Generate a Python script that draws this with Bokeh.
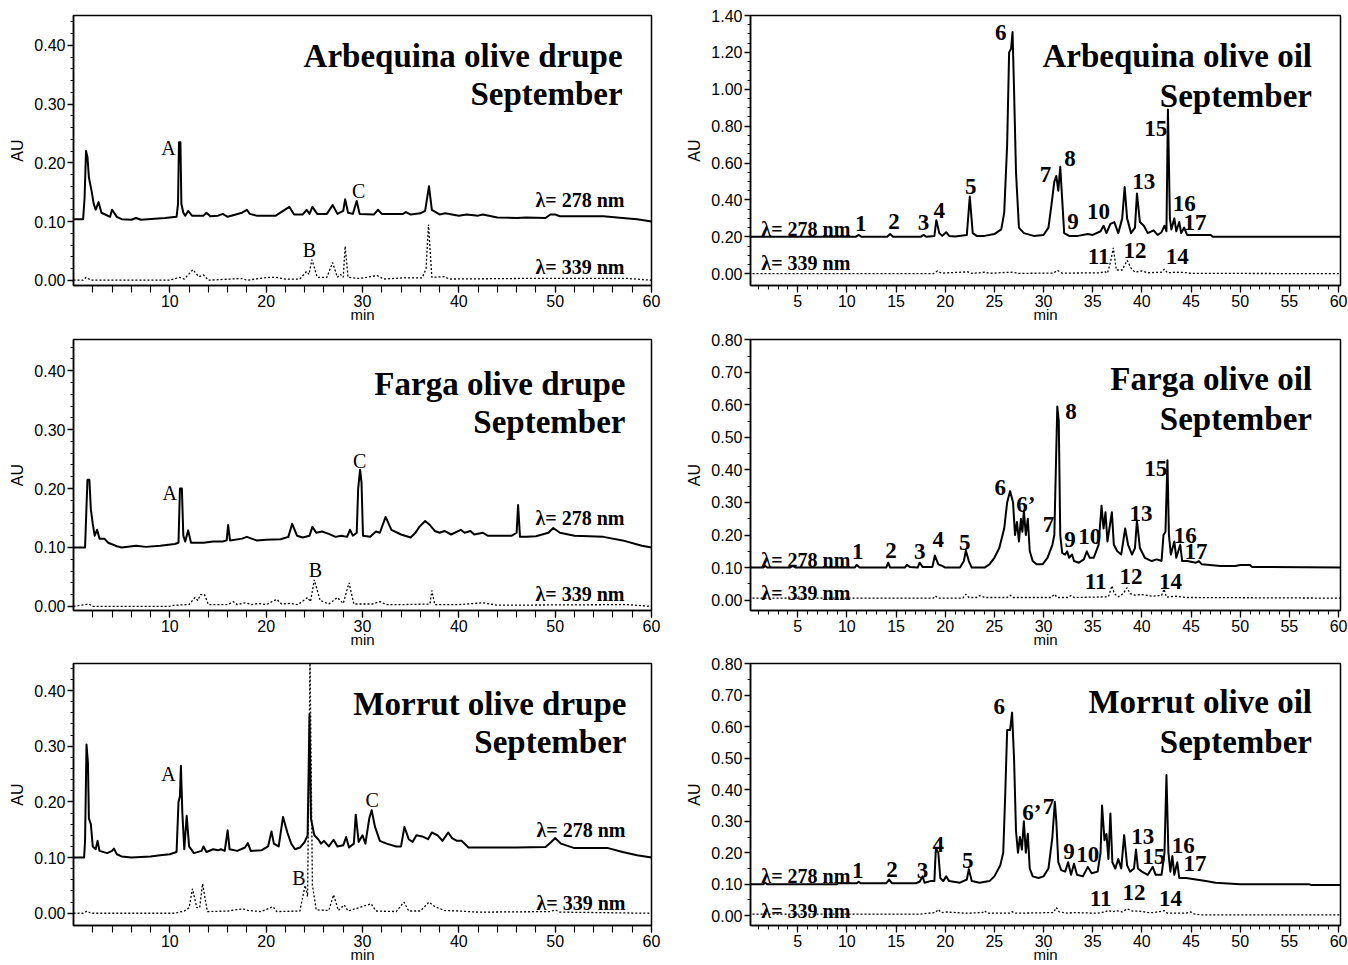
from bokeh.plotting import figure
from bokeh.layouts import column, row
from bokeh.models import Label, FixedTicker, PrintfTickFormatter, Range1d
from bokeh.embed import file_html
from bokeh.resources import INLINE

# ---------------- DATA (retention time in min, absorbance in AU) ----------------
arb_drupe_278 = [(0,0.104),(1.0,0.104),(1.15,0.14),(1.3,0.22),(1.45,0.21),(1.6,0.175),(1.9,0.15),(2.1,0.13),(2.3,0.12),(2.6,0.133),(2.9,0.115),(3.3,0.112),(3.8,0.108),(4.0,0.12),(4.5,0.108),(5,0.104),(6,0.103),(6.5,0.106),(7,0.103),(9.5,0.106),(10.7,0.108),(10.85,0.13),(10.95,0.235),(11.1,0.235),(11.2,0.13),(11.4,0.115),(11.6,0.11),(11.9,0.118),(12.3,0.11),(13.5,0.11),(13.8,0.115),(14.2,0.109),(15.0,0.11),(15.5,0.113),(16,0.108),(17.5,0.115),(18.0,0.12),(18.3,0.113),(19,0.11),(21,0.11),(22.4,0.125),(22.9,0.112),(23.8,0.112),(24.2,0.12),(24.5,0.113),(24.8,0.125),(25.3,0.113),(26.3,0.113),(26.9,0.128),(27.4,0.113),(28.0,0.118),(28.2,0.138),(28.5,0.115),(29.0,0.113),(29.4,0.135),(29.7,0.113),(31.2,0.112),(31.6,0.12),(32,0.113),(34.2,0.113),(34.5,0.116),(35,0.112),(36,0.114),(36.5,0.118),(36.9,0.16),(37.2,0.12),(38,0.112),(38.6,0.114),(40,0.11),(40.8,0.112),(42,0.11),(42.5,0.112),(44,0.107),(46,0.106),(47,0.107),(49,0.106),(49.5,0.112),(50,0.112),(50.5,0.109),(55,0.109),(57,0.106),(58.5,0.104),(60,0.1)]
arb_drupe_339 = [(0,0.0),(1.0,0.0),(1.3,0.005),(1.8,0.0),(10,0.0),(11,0.005),(11.5,0.002),(12.4,0.018),(13,0.006),(13.5,0.009),(14,0.0),(17.5,0.003),(18,0.0),(20.3,0.005),(21,0.005),(22,0.002),(23.5,0.002),(24.2,0.015),(24.45,0.01),(24.75,0.035),(25.3,0.005),(26.3,0.005),(26.9,0.03),(27.4,0.005),(27.7,0.01),(28.0,0.005),(28.2,0.058),(28.5,0.005),(29.5,0.003),(30.5,0.005),(31.5,0.008),(32.2,0.002),(34.2,0.004),(36.2,0.004),(36.6,0.02),(36.85,0.095),(37.2,0.005),(38.5,0.006),(39,0.002),(46.5,0.003),(49.2,0.003),(57.5,0.003),(60,0.0)]

farga_drupe_278 = [(0,0.10),(1.2,0.10),(1.35,0.17),(1.45,0.215),(1.65,0.215),(1.8,0.165),(2.0,0.14),(2.2,0.12),(2.45,0.13),(2.7,0.115),(3.2,0.115),(3.6,0.108),(4.5,0.102),(5,0.10),(6.5,0.103),(7.5,0.101),(9,0.103),(10.5,0.106),(10.9,0.108),(11.05,0.2),(11.25,0.2),(11.4,0.12),(11.6,0.11),(11.9,0.129),(12.2,0.108),(13.5,0.108),(14.5,0.11),(15.5,0.11),(15.9,0.112),(16.05,0.138),(16.25,0.112),(17.5,0.115),(18,0.118),(19,0.112),(20,0.113),(21.5,0.114),(22.3,0.118),(22.7,0.14),(23.2,0.12),(23.8,0.117),(24.5,0.12),(24.8,0.135),(25.2,0.125),(25.8,0.127),(26.5,0.123),(27.2,0.118),(27.8,0.12),(28.4,0.118),(28.7,0.13),(29.0,0.12),(29.4,0.125),(29.55,0.2),(29.75,0.232),(29.9,0.21),(30.05,0.12),(30.8,0.118),(31.4,0.127),(31.8,0.125),(32.4,0.152),(33,0.13),(34,0.122),(35,0.117),(35.5,0.125),(35.9,0.135),(36.5,0.145),(37.0,0.138),(37.5,0.128),(38,0.125),(38.5,0.128),(39.2,0.122),(40.2,0.13),(40.6,0.125),(41.2,0.128),(41.6,0.122),(42.5,0.125),(43,0.12),(45.5,0.12),(46.0,0.125),(46.15,0.172),(46.35,0.118),(47,0.118),(48,0.119),(49.3,0.125),(49.8,0.133),(50.5,0.125),(52,0.12),(55,0.118),(57,0.112),(59,0.103),(60,0.10)]
farga_drupe_339 = [(0,0.0),(1.2,0.003),(1.6,0.004),(2.0,0.0),(10,0.0),(10.5,0.002),(12,0.003),(12.6,0.015),(12.9,0.01),(13.2,0.02),(13.6,0.02),(14.0,0.003),(16,0.003),(16.6,0.008),(17,0.003),(17.8,0.006),(18.5,0.003),(19.2,0.005),(20,0.003),(21.1,0.012),(21.6,0.004),(22.5,0.005),(23.3,0.003),(24.3,0.015),(24.6,0.008),(25.0,0.045),(25.6,0.01),(26.5,0.004),(27.4,0.015),(28.0,0.005),(28.6,0.04),(29.1,0.004),(31,0.004),(31.8,0.008),(32.5,0.003),(34,0.003),(37.0,0.004),(37.2,0.027),(37.5,0.003),(40,0.003),(42.5,0.006),(44,0.002),(57.5,0.003),(60,0.0)]

morrut_drupe_278 = [(0,0.10),(1.1,0.10),(1.2,0.13),(1.35,0.303),(1.5,0.27),(1.6,0.17),(1.8,0.16),(2.0,0.12),(2.3,0.115),(2.5,0.13),(2.7,0.112),(3.5,0.108),(4.0,0.112),(4.2,0.116),(4.5,0.106),(5,0.102),(6,0.10),(8,0.102),(9,0.104),(10,0.106),(10.7,0.11),(10.9,0.2),(11.05,0.21),(11.15,0.265),(11.3,0.18),(11.5,0.115),(11.75,0.175),(12.0,0.12),(12.5,0.108),(13.3,0.112),(13.5,0.12),(13.8,0.11),(14.5,0.115),(15,0.113),(15.3,0.115),(15.7,0.112),(16.0,0.149),(16.2,0.115),(17,0.112),(17.8,0.118),(18.1,0.126),(18.4,0.112),(19.5,0.113),(20.2,0.12),(20.55,0.147),(20.8,0.125),(21.3,0.12),(21.75,0.173),(22.2,0.145),(22.6,0.125),(23,0.115),(23.5,0.118),(24.0,0.128),(24.3,0.14),(24.5,0.357),(24.65,0.17),(25.0,0.14),(25.4,0.133),(25.7,0.125),(26.0,0.13),(26.5,0.12),(27.0,0.132),(27.4,0.12),(28.0,0.122),(28.3,0.137),(28.6,0.118),(29.1,0.125),(29.3,0.177),(29.6,0.128),(30.0,0.14),(30.3,0.125),(30.7,0.17),(30.95,0.185),(31.3,0.155),(31.8,0.13),(32.5,0.125),(33.5,0.12),(34.0,0.12),(34.35,0.155),(34.8,0.133),(35.2,0.128),(35.6,0.14),(36.2,0.138),(36.8,0.133),(37.2,0.145),(37.8,0.14),(38.3,0.13),(38.9,0.145),(39.3,0.135),(39.8,0.13),(40.3,0.13),(41.0,0.118),(45,0.118),(46,0.118),(49,0.119),(49.6,0.128),(50.0,0.135),(50.6,0.125),(52,0.117),(55.5,0.117),(57,0.11),(58.5,0.104),(60,0.10)]
morrut_drupe_339 = [(0,0.0),(1.0,0.0),(1.4,0.004),(1.8,0.0),(10.5,0.0),(11.5,0.004),(12.0,0.01),(12.35,0.044),(12.8,0.01),(13.1,0.01),(13.4,0.053),(13.9,0.003),(16,0.004),(17.6,0.008),(18.1,0.005),(19.5,0.003),(20.7,0.012),(21.1,0.003),(23.5,0.004),(23.8,0.03),(24.05,0.05),(24.3,0.03),(24.55,0.46),(24.8,0.05),(25.2,0.006),(26.5,0.005),(27.0,0.033),(27.5,0.005),(28.1,0.015),(28.5,0.004),(30.9,0.017),(31.4,0.004),(33.5,0.003),(34.3,0.02),(34.8,0.004),(36,0.004),(36.9,0.02),(37.5,0.012),(38.5,0.005),(40,0.004),(42,0.002),(49.5,0.003),(50,0.006),(50.5,0.002),(60,0.0)]

arb_oil_278 = [(0,0.20),(10.9,0.20),(11.2,0.21),(11.5,0.20),(14.1,0.20),(14.4,0.215),(14.7,0.20),(17.5,0.20),(17.8,0.21),(18.1,0.20),(18.9,0.205),(19.1,0.29),(19.4,0.22),(19.7,0.205),(20.1,0.225),(20.4,0.205),(21,0.202),(22.2,0.21),(22.5,0.418),(22.8,0.22),(23.2,0.205),(24,0.205),(25,0.215),(25.7,0.24),(26.0,0.33),(26.3,0.7),(26.5,1.2),(26.7,1.22),(26.85,1.31),(27.0,1.0),(27.2,0.55),(27.5,0.25),(28,0.22),(29,0.205),(30,0.21),(30.5,0.25),(30.8,0.37),(31.1,0.5),(31.3,0.53),(31.5,0.45),(31.7,0.58),(31.9,0.4),(32.1,0.22),(32.6,0.205),(33.5,0.205),(34.5,0.215),(35,0.21),(35.8,0.23),(36.1,0.26),(36.4,0.22),(36.8,0.27),(37.2,0.28),(37.6,0.22),(38.0,0.3),(38.25,0.47),(38.5,0.3),(38.9,0.22),(39.3,0.25),(39.5,0.435),(39.8,0.28),(40.2,0.26),(40.6,0.22),(41.2,0.235),(41.6,0.21),(42.0,0.225),(42.3,0.26),(42.5,0.23),(42.65,0.89),(42.85,0.3),(43.0,0.24),(43.3,0.3),(43.5,0.23),(43.8,0.28),(44.0,0.22),(44.3,0.25),(44.6,0.21),(45.5,0.21),(47.0,0.21),(47.2,0.20),(60.2,0.20)]
arb_oil_339 = [(0,0.0),(18.8,0.0),(19.2,0.015),(19.6,0.003),(22.3,0.01),(22.7,0.002),(23.5,0.005),(24,0.008),(24.5,0.002),(25.8,0.006),(26.8,0.008),(27.5,0.002),(31,0.003),(31.4,0.018),(31.9,0.003),(35.8,0.005),(36.2,0.012),(36.5,0.003),(36.8,0.06),(37.1,0.14),(37.4,0.02),(38.0,0.02),(38.5,0.072),(38.9,0.03),(39.3,0.008),(40,0.015),(40.6,0.005),(42,0.008),(42.3,0.025),(42.6,0.005),(43.5,0.008),(44.5,0.006),(45,0.002),(60.2,0.0)]

farga_oil_278 = [(0,0.10),(1.5,0.10),(1.7,0.105),(1.9,0.10),(4.2,0.10),(4.5,0.105),(4.8,0.10),(10.8,0.10),(11.0,0.108),(11.3,0.10),(14.0,0.10),(14.2,0.115),(14.4,0.10),(15.9,0.10),(16.1,0.108),(16.4,0.102),(17.2,0.10),(17.4,0.115),(17.7,0.102),(18.7,0.102),(18.95,0.137),(19.3,0.11),(19.7,0.105),(20,0.10),(21.5,0.10),(21.9,0.12),(22.1,0.152),(22.4,0.12),(22.7,0.10),(24,0.10),(24.5,0.11),(25,0.13),(25.5,0.16),(26,0.22),(26.3,0.3),(26.6,0.335),(26.9,0.3),(27.1,0.2),(27.3,0.24),(27.5,0.18),(27.7,0.25),(27.85,0.21),(28.0,0.275),(28.2,0.2),(28.4,0.25),(28.6,0.15),(28.9,0.12),(29.3,0.11),(29.9,0.11),(30.4,0.13),(30.9,0.17),(31.1,0.2),(31.25,0.4),(31.4,0.595),(31.55,0.55),(31.7,0.2),(31.9,0.145),(32.2,0.14),(32.4,0.15),(32.6,0.13),(32.9,0.14),(33.1,0.12),(33.6,0.115),(34.1,0.125),(34.4,0.15),(34.7,0.13),(35.1,0.13),(35.6,0.17),(35.9,0.29),(36.1,0.22),(36.3,0.27),(36.5,0.18),(36.7,0.22),(36.95,0.27),(37.15,0.17),(37.5,0.15),(37.9,0.14),(38.3,0.22),(38.6,0.17),(39.0,0.14),(39.3,0.16),(39.5,0.245),(39.8,0.16),(40.3,0.13),(41,0.12),(41.5,0.125),(42,0.12),(42.2,0.2),(42.4,0.21),(42.6,0.43),(42.75,0.2),(42.95,0.14),(43.3,0.18),(43.5,0.13),(43.9,0.17),(44.1,0.12),(44.6,0.12),(45.5,0.115),(45.8,0.12),(46.1,0.11),(48,0.105),(49.5,0.105),(50,0.108),(51,0.108),(51.2,0.102),(60.2,0.10)]
farga_oil_339 = [(0,0.006),(18.8,0.006),(19.0,0.013),(19.3,0.006),(21.8,0.006),(22.1,0.018),(22.4,0.008),(23.2,0.008),(23.5,0.014),(24,0.008),(26.3,0.008),(26.6,0.015),(26.9,0.008),(30.8,0.008),(31.1,0.018),(31.4,0.008),(32.5,0.008),(32.8,0.014),(33.1,0.008),(36.6,0.01),(36.95,0.044),(37.2,0.02),(37.6,0.01),(38.1,0.02),(38.5,0.038),(38.8,0.02),(39.3,0.015),(40,0.017),(41,0.012),(42.0,0.014),(42.25,0.034),(42.5,0.009),(43.5,0.012),(44.5,0.008),(60.2,0.006)]

morrut_oil_278 = [(0,0.10),(1.5,0.10),(1.7,0.105),(1.9,0.10),(9,0.10),(9.1,0.103),(11,0.103),(11.2,0.108),(11.4,0.103),(14.0,0.103),(14.3,0.115),(14.6,0.103),(17.0,0.103),(17.4,0.108),(17.7,0.125),(17.9,0.105),(18.5,0.11),(18.9,0.11),(19.05,0.215),(19.3,0.2),(19.5,0.12),(19.8,0.11),(20.1,0.125),(20.4,0.11),(21.5,0.105),(22.2,0.115),(22.4,0.148),(22.7,0.11),(23.5,0.105),(24.5,0.11),(25,0.125),(25.6,0.16),(25.9,0.2),(26.1,0.38),(26.3,0.59),(26.6,0.59),(26.8,0.645),(27.0,0.5),(27.2,0.27),(27.4,0.2),(27.6,0.25),(27.8,0.21),(28.0,0.3),(28.2,0.2),(28.4,0.26),(28.6,0.15),(28.9,0.125),(29.5,0.12),(30.0,0.125),(30.5,0.15),(30.9,0.25),(31.15,0.362),(31.3,0.3),(31.5,0.17),(31.8,0.145),(32.2,0.14),(32.5,0.17),(32.8,0.13),(33.1,0.165),(33.4,0.13),(34.0,0.125),(34.5,0.155),(34.9,0.135),(35.5,0.14),(35.8,0.2),(35.95,0.35),(36.2,0.24),(36.4,0.26),(36.6,0.18),(36.8,0.325),(37.0,0.17),(37.3,0.15),(37.6,0.18),(37.9,0.15),(38.2,0.256),(38.5,0.16),(38.8,0.14),(39.2,0.15),(39.4,0.21),(39.6,0.15),(40.0,0.14),(40.6,0.13),(41.1,0.155),(41.4,0.13),(42.0,0.13),(42.3,0.2),(42.5,0.447),(42.7,0.2),(42.9,0.14),(43.1,0.19),(43.3,0.13),(43.6,0.17),(43.8,0.12),(44.5,0.12),(45.5,0.115),(46.5,0.11),(47.5,0.105),(50,0.10),(57,0.10),(57.2,0.098),(60.2,0.098)]
morrut_oil_339 = [(0,0.005),(17.5,0.005),(18.2,0.008),(19.0,0.01),(19.3,0.02),(19.6,0.01),(20.2,0.012),(22,0.008),(23.8,0.01),(24.0,0.016),(24.3,0.008),(26.5,0.008),(26.8,0.013),(27.1,0.008),(31.0,0.01),(31.3,0.026),(31.6,0.012),(32.5,0.008),(33,0.01),(35.5,0.008),(36.2,0.012),(36.6,0.017),(37,0.012),(37.4,0.016),(38.0,0.012),(38.5,0.022),(39,0.015),(40,0.014),(40.6,0.01),(41.2,0.01),(42.3,0.016),(42.6,0.008),(44.5,0.008),(45,0.012),(45.3,0.006),(46,0.003),(60.2,0.003)]

# tick values
drupe_x_ticks = [10, 20, 30, 40, 50, 60]
drupe_y_ticks = [0.0, 0.1, 0.2, 0.3, 0.4]
oil_x_ticks = [5, 10, 15, 20, 25, 30, 35, 40, 45, 50, 55, 60]
arb_oil_y_ticks = [0.0, 0.2, 0.4, 0.6, 0.8, 1.0, 1.2, 1.4]
oil_y_ticks = [0.0, 0.1, 0.2, 0.3, 0.4, 0.5, 0.6, 0.7, 0.8]

# peak annotations (label, time, AU)
arb_drupe_peaks = [("A", 9.85, 0.226), ("B", 24.5, 0.051), ("C", 29.6, 0.152)]
farga_drupe_peaks = [("A", 10.0, 0.192), ("B", 25.1, 0.061), ("C", 29.7, 0.247)]
morrut_drupe_peaks = [("A", 9.87, 0.25), ("B", 23.4, 0.064), ("C", 31.0, 0.203)]
arb_oil_peaks = [("1",11.4,0.273),("2",14.8,0.282),("3",17.8,0.276),("4",19.4,0.34),("5",22.6,0.473),("6",25.65,1.31),("7",30.2,0.536),("8",32.7,0.627),("9",33.0,0.285),("10",35.6,0.336),("11",35.6,0.091),("12",39.3,0.127),("13",40.2,0.5),("14",43.6,0.091),("15",41.4,0.787),("16",44.3,0.382),("17",45.4,0.276)]
farga_oil_peaks = [("1",11.1,0.15),("2",14.5,0.152),("3",17.4,0.148),("4",19.3,0.185),("5",22.0,0.178),("6",25.6,0.347),("6\u2019",28.2,0.294),("7",30.5,0.233),("8",32.8,0.58),("9",32.7,0.185),("10",34.7,0.195),("11",35.3,0.057),("12",38.9,0.074),("13",39.9,0.266),("14",42.9,0.057),("15",41.4,0.405),("16",44.4,0.2),("17",45.5,0.15)]
morrut_oil_peaks = [("1",11.1,0.143),("2",14.6,0.148),("3",17.7,0.145),("4",19.3,0.225),("5",22.3,0.174),("6",25.5,0.665),("6\u2019",28.8,0.327),("7",30.5,0.348),("9",32.6,0.205),("10",34.5,0.194),("11",35.8,0.056),("12",39.2,0.074),("13",40.1,0.253),("14",42.9,0.056),("15",41.2,0.189),("16",44.2,0.223),("17",45.4,0.166)]


def pts(seq):
    return [a for a, _ in seq], [b for _, b in seq]


def frange(a, b, step):
    out, v = [], a
    while v <= b + 1e-9:
        out.append(round(v, 4))
        v += step
    return out


def make_panel(width, height, borders, xr, yr, xmaj, xmin, ymaj, ymin,
               trace278, trace339, peaks, peak_font, title, title_pos,
               lam_pos, lam_align, lam_size, kind):
    l, r, t, b = borders
    p = figure(width=width, height=height, x_range=Range1d(*xr), y_range=Range1d(*yr),
               output_backend="svg", toolbar_location=None,
               min_border_left=l, min_border_right=r, min_border_top=t, min_border_bottom=b)
    p.xgrid.visible = False
    p.ygrid.visible = False
    p.outline_line_color = "black"
    p.outline_line_width = 1.5
    p.outline_line_alpha = 1.0
    p.background_fill_color = "white"
    p.border_fill_color = "white"

    xa, ya = p.xaxis[0], p.yaxis[0]
    xa.ticker = FixedTicker(ticks=xmaj, minor_ticks=xmin)
    ya.ticker = FixedTicker(ticks=ymaj, minor_ticks=ymin)
    xa.formatter = PrintfTickFormatter(format="%d")
    ya.formatter = PrintfTickFormatter(format="%.2f")
    for ax in (xa, ya):
        ax.axis_line_color = "black"
        ax.axis_line_width = 1.5
        ax.major_tick_line_color = "black"
        ax.minor_tick_line_color = "black"
        ax.major_tick_line_width = 1.3
        ax.minor_tick_line_width = 1.1
        ax.major_tick_in = 0
        ax.minor_tick_in = 0
        ax.major_label_text_font = "Liberation Sans"
        ax.major_label_text_font_size = "16px"
        ax.major_label_text_color = "black"
        ax.major_label_standoff = 2
    xa.major_tick_out = 7
    xa.minor_tick_out = 7 if kind == "drupe" else 4
    ya.major_tick_out = 6
    ya.minor_tick_out = 3
    ya.axis_label = "AU"
    ya.axis_label_text_font = "Liberation Sans"
    ya.axis_label_text_font_size = "16px"
    ya.axis_label_text_font_style = "normal"
    ya.axis_label_text_color = "black"
    ya.axis_label_standoff = 5
    xa.axis_label = "min"
    xa.axis_label_text_font = "Liberation Sans"
    xa.axis_label_text_font_size = "15px"
    xa.axis_label_text_font_style = "normal"
    xa.axis_label_text_color = "black"
    xa.axis_label_standoff = -4

    tx, ty = pts(trace278)
    p.line(tx, ty, line_color="black", line_width=2.0, line_join="round")
    dx, dy = pts(trace339)
    p.line(dx, dy, line_color="black", line_width=1.3, line_dash="2 2")

    pf, pstyle, psize = peak_font
    for name, x, y in peaks:
        p.add_layout(Label(x=x, y=y, text=name, text_font=pf, text_font_style=pstyle,
                           text_font_size=psize, text_align="center", text_baseline="middle",
                           text_color="black"))

    tx0, ty1, ty2 = title_pos
    for txt, yy in zip(title, (ty1, ty2)):
        p.add_layout(Label(x=tx0, y=yy, text=txt, text_font="Liberation Serif",
                           text_font_style="bold", text_font_size="33px",
                           text_align="right", text_baseline="middle", text_color="black"))

    lx, ly278, ly339 = lam_pos
    for txt, yy in (("\u03bb= 278 nm", ly278), ("\u03bb= 339 nm", ly339)):
        p.add_layout(Label(x=lx, y=yy, text=txt, text_font="Liberation Serif",
                           text_font_style="bold", text_font_size=lam_size,
                           text_align=lam_align, text_baseline="middle", text_color="black"))
    return p


LW, RW = 680, 668
drupe_font = ("Liberation Serif", "normal", "20px")
oil_font = ("Liberation Serif", "bold", "23px")
dxmin = frange(2, 60, 2)
oxmin = frange(1, 60, 1)
dymin = frange(0.0, 0.44, 0.02)

p1 = make_panel(LW, 326, (73, 29, 14, 41), (0, 60), (-0.009, 0.451), drupe_x_ticks, dxmin,
                drupe_y_ticks, dymin, arb_drupe_278, arb_drupe_339, arb_drupe_peaks, drupe_font,
                ("Arbequina olive drupe", "September"), (57.0, 0.382, 0.318),
                (57.2, 0.136, 0.022), "right", "20px", "drupe")
p2 = make_panel(RW, 326, (70, 8, 15, 41), (0.2, 60.2), (-0.064, 1.40), oil_x_ticks, oxmin,
                arb_oil_y_ticks, frange(0.0, 1.4, 0.05), arb_oil_278, arb_oil_339, arb_oil_peaks, oil_font,
                ("Arbequina olive oil", "September"), (57.3, 1.178, 0.966),
                (1.3, 0.242, 0.060), "left", "20px", "oil")
p3 = make_panel(LW, 326, (73, 29, 9, 42), (0, 60), (-0.007, 0.453), drupe_x_ticks, dxmin,
                drupe_y_ticks, dymin, farga_drupe_278, farga_drupe_339, farga_drupe_peaks, drupe_font,
                ("Farga olive drupe", "September"), (57.3, 0.377, 0.3125),
                (57.2, 0.150, 0.021), "right", "20px", "drupe")
p4 = make_panel(RW, 326, (70, 8, 13, 41), (0.2, 60.2), (-0.032, 0.801), oil_x_ticks, oxmin,
                oil_y_ticks, frange(0.0, 0.8, 0.05), farga_oil_278, farga_oil_339, farga_oil_peaks, oil_font,
                ("Farga olive oil", "September"), (57.3, 0.6785, 0.556),
                (1.3, 0.124, 0.0216), "left", "20px", "oil")
p5 = make_panel(LW, 313, (73, 29, 10, 37), (0, 60), (-0.022, 0.4485), drupe_x_ticks, dxmin,
                drupe_y_ticks, dymin, morrut_drupe_278, morrut_drupe_339, morrut_drupe_peaks, drupe_font,
                ("Morrut olive drupe", "September"), (57.4, 0.376, 0.307),
                (57.3, 0.150, 0.018), "right", "20px", "drupe")
p6 = make_panel(RW, 313, (70, 8, 11, 37), (0.2, 60.2), (-0.031, 0.801), oil_x_ticks, oxmin,
                oil_y_ticks, frange(0.0, 0.8, 0.05), morrut_oil_278, morrut_oil_339, morrut_oil_peaks, oil_font,
                ("Morrut olive oil", "September"), (57.3, 0.6786, 0.553),
                (1.3, 0.1247, 0.0145), "left", "20px", "oil")

layout = column(row(p1, p2, spacing=0), row(p3, p4, spacing=0), row(p5, p6, spacing=0), spacing=0)
open("out.html", "w").write(file_html(layout, INLINE))
